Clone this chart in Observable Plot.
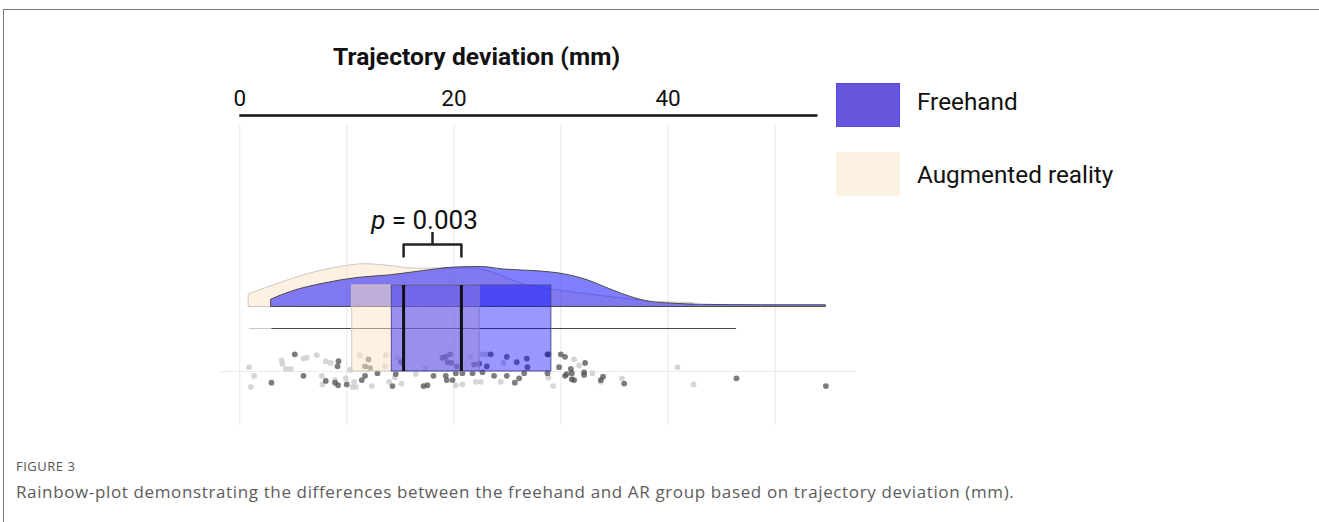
<!DOCTYPE html>
<html>
<head>
<meta charset="utf-8">
<script src="https://cdn.jsdelivr.net/npm/d3@7"></script>
<script src="https://cdn.jsdelivr.net/npm/@observablehq/plot@0.6"></script>
<style>
  html, body { margin: 0; padding: 0; background: #fff; }
  #page { position: relative; width: 1319px; height: 522px; overflow: hidden; font-family: Roboto, sans-serif; }
  #frame { position: absolute; left: 3px; top: 9px; right: -2px; bottom: -2px; border-top: 1.5px solid #7a7a7a; border-left: 1.5px solid #7a7a7a; }
  #chart { position: absolute; left: 0; top: 0; }
  #title { position: absolute; left: 333px; top: 42px; font-size: 24.5px; font-weight: 700; color: #111; white-space: nowrap; letter-spacing: 0.1px; }
  .sw { position: absolute; left: 836px; width: 64px; height: 44px; box-sizing: border-box; }
  .lt { position: absolute; left: 917px; font-size: 24.3px; color: #111; white-space: nowrap; }
  #fig { position: absolute; left: 16px; top: 457px; font-family: "Open Sans", sans-serif; font-size: 13px; color: #555; letter-spacing: 0.5px; }
  #cap { position: absolute; left: 16px; top: 480px; font-family: "Open Sans", sans-serif; font-size: 17px; color: #5c5c5c; white-space: nowrap; letter-spacing: 0.63px; }
</style>
</head>
<body>
<div id="page">
  <div id="frame"></div>
  <div id="chart"></div>
  <div id="title">Trajectory deviation (mm)</div>
  <div class="sw" style="top:83px;background:#6656dc;border:1.5px solid #5a48e2;"></div>
  <div class="lt" style="top:87px;">Freehand</div>
  <div class="sw" style="top:152px;background:#fdf1e3;"></div>
  <div class="lt" style="top:160px;">Augmented reality</div>
  <div id="fig">FIGURE 3</div>
  <div id="cap">Rainbow-plot demonstrating the differences between the freehand and AR group based on trajectory deviation (mm).</div>
</div>
<script>
// ---------- data ----------
const groups = ["Freehand", "Augmented reality"];
const q1 = [14.2, 10.5];
const medians = [20.7, 15.3];
const q3 = [29.1, 22.4];
const whiskerLow = [3.0, 0.9];
const whiskerHigh = [46.4, 35.6];
const pText = "p = 0.003";
const tickValues = [0, 20, 40];
const gridValues = [0, 10, 20, 30, 40, 50];
const axisEnd = 54;

// raw observations (mm) with their jitter offsets
const freehandX = [5.14, 9.22, 9.13, 12.02, 11.70, 12.17, 12.86, 5.95, 2.96, 8.03, 8.90, 9.18, 9.99, 11.40, 11.70, 14.26,
  18.93, 19.24, 19.64, 19.40, 19.77, 20.27, 20.80, 21.88, 22.35, 23.44, 23.07, 22.67, 21.74, 24.94, 25.87, 26.81, 26.87,
  28.74, 26.56, 26.09, 25.69, 24.94, 23.75, 19.24, 19.33, 19.87, 18.09, 17.16, 17.53, 20.18, 15.04, 14.57, 28.74,
  28.83, 29.98, 30.38, 32.25, 29.82, 30.92, 31.01, 30.52, 30.38, 32.16, 32.16, 31.01, 31.23, 33.93, 33.72, 35.90,
  46.39, 54.74];
const freehandJitter = [0.20, 0.12, 0.06, 0.14, 0.06, 0.04, -0.02, -0.05, -0.13, -0.11, -0.13, -0.16, -0.15, -0.10, -0.05, -0.17,
  0.16, 0.17, 0.20, 0.11, 0.10, 0.06, -0.02, 0.08, 0.09, 0.20, 0.06, -0.01, -0.02, 0.17, 0.11, 0.15, 0.05,
  0.20, -0.02, -0.08, -0.13, -0.05, -0.05, -0.05, -0.10, -0.10, -0.05, -0.17, -0.16, -0.02, 0.11, -0.03, -0.02,
  0.20, 0.20, 0.17, 0.10, 0.05, 0.03, -0.02, -0.03, -0.05, -0.01, -0.04, -0.09, -0.10, -0.06, -0.10, -0.14,
  -0.08, -0.17];
const arX = [0.87, 1.34, 1.03, 3.92, 3.99, 4.30, 4.76, 5.95, 6.26, 7.19, 8.03, 8.50, 7.66, 7.72, 8.90, 9.90, 10.30,
  10.68, 10.53, 10.84, 11.21, 12.33, 13.64, 13.57, 13.95, 14.73, 14.48, 15.10, 16.44, 17.31, 20.18, 20.80, 21.58,
  22.04, 22.51, 22.67, 23.07, 24.38, 24.63, 31.23, 31.69, 32.94, 33.72, 35.68, 28.83, 29.26, 40.88, 42.38];
const arJitter = [0.05, -0.05, -0.18, 0.13, 0.09, 0.03, 0.03, 0.15, 0.16, 0.19, 0.12, 0.10, -0.05, -0.15, -0.10, -0.08, 0.02,
  -0.12, -0.18, -0.18, 0.19, -0.17, 0.19, 0.06, -0.12, 0.16, -0.07, -0.14, -0.03, 0.04, -0.16, -0.15, 0.17,
  -0.12, -0.12, 0.20, 0.20, -0.12, 0.10, 0.14, 0.07, -0.02, -0.12, -0.08, -0.07, -0.17, 0.05, -0.15];

// density profiles (mm, relative density)
const freehandDensX = [2.96, 4.76, 7.87, 10.99, 14.10, 17.21, 20.02, 22.51, 24.69, 27.81, 30.29, 32.48, 34.65, 36.52, 38.39, 40.26, 43.06, 48.66, 54.74];
const freehandDensY = [0.172, 0.349, 0.544, 0.674, 0.737, 0.837, 0.916, 0.930, 0.870, 0.830, 0.760, 0.621, 0.405, 0.233, 0.116, 0.079, 0.051, 0.040, 0.040];
const arDensX = [0.87, 3.20, 6.32, 9.43, 11.61, 14.10, 16.25, 18.77, 21.58, 23.14, 24.69, 26.25, 27.81, 30.92, 34.03, 37.15, 39.02, 42.38];
const arDensY = [0.295, 0.505, 0.760, 0.930, 0.993, 0.953, 0.893, 0.893, 0.893, 0.837, 0.698, 0.544, 0.451, 0.349, 0.249, 0.156, 0.116, 0.093];

// ---------- styling / layout ----------
const fillFH = "#0000ff", fillAR = "#ffe4c4";
const lineFH = "#4a4a4a", lineAR = "#c8c8c8";
const dotFH = "#505050", dotAR = "#cfcfcf";
const densBase = 0.75, densScale = 0.5;

const boxes = groups.map((g, i) => ({group: g, q1: q1[i], median: medians[i], q3: q3[i], lo: whiskerLow[i], hi: whiskerHigh[i]}));
const ptsFH = freehandX.map((x, i) => ({x, j: freehandJitter[i]}));
const ptsAR = arX.map((x, i) => ({x, j: arJitter[i]}));
const densFH = freehandDensX.map((x, i) => ({x, d: freehandDensY[i]}));
const densAR = arDensX.map((x, i) => ({x, d: arDensY[i]}));
const [mFH, mAR] = medians;
const bLo = 1.337, bHi = 1.477, bTop = 1.616;
const bracket = [{x: mAR, y: bLo}, {x: mAR, y: bHi}, {x: mFH, y: bHi}, {x: mFH, y: bLo}];

const chart = Plot.plot({
  width: 1319, height: 430,
  marginLeft: 220, marginRight: 463, marginTop: 125, marginBottom: 5,
  style: {fontFamily: "Roboto, sans-serif", fontSize: "22px", color: "#111", background: "transparent"},
  x: {domain: [-1.8, 57.6], axis: null},
  y: {domain: [-0.628, 2.86], axis: null},
  marks: [
    Plot.ruleX(gridValues, {stroke: "#ebebeb", strokeWidth: 1.2}),
    Plot.ruleY([0], {stroke: "#ebebeb", strokeWidth: 1.2}),
    Plot.dot(ptsAR, {x: "x", y: "j", r: 2.9, fill: dotAR, fillOpacity: 0.85}),
    Plot.dot(ptsFH, {x: "x", y: "j", r: 2.9, fill: dotFH, fillOpacity: 0.75}),
    Plot.ruleY([boxes[1]], {y: 0.5, x1: "lo", x2: "hi", stroke: lineAR, strokeWidth: 1.2}),
    Plot.ruleY([boxes[0]], {y: 0.5, x1: "lo", x2: "hi", stroke: lineFH, strokeWidth: 1.2}),
    Plot.areaY(densAR, {x: "x", y1: densBase, y2: d => densBase + d.d * densScale, curve: "monotone-x",
      fill: fillAR, fillOpacity: 0.5, stroke: lineAR, strokeWidth: 1}),
    Plot.areaY(densFH, {x: "x", y1: densBase, y2: d => densBase + d.d * densScale, curve: "monotone-x",
      fill: fillFH, fillOpacity: 0.5, stroke: lineFH, strokeWidth: 1}),
    Plot.rect([boxes[1]], {x1: "q1", x2: "q3", y1: 0, y2: 1, fill: fillAR, fillOpacity: 0.5, stroke: "#cfc6bd", strokeWidth: 1}),
    Plot.rect([boxes[0]], {x1: "q1", x2: "q3", y1: 0, y2: 1, fill: fillFH, fillOpacity: 0.4, stroke: "#4b4b9a", strokeWidth: 1}),
    Plot.ruleX(boxes, {x: "median", y1: 0, y2: 1, stroke: "#111", strokeWidth: 3}),
    Plot.line(bracket, {x: "x", y: "y", stroke: "#222", strokeWidth: 2.5}),
    Plot.ruleX([(mAR + mFH) / 2], {y1: bHi, y2: bTop, stroke: "#222", strokeWidth: 2.5}),
    Plot.text([pText], {x: (mAR + mFH) / 2, y: 1.756, dx: -8, text: d => d, fontSize: 26, lineAnchor: "middle", className: "ptext"}),
    Plot.ruleY([2.977], {x1: 0, x2: axisEnd, stroke: "#111", strokeWidth: 2.5}),
    Plot.text(tickValues, {x: d => d, y: 3.174, text: d => String(d), fontSize: 22.5, lineAnchor: "middle"})
  ]
});
document.getElementById("chart").appendChild(chart);
// italic p in the annotation
chart.querySelectorAll(".ptext text").forEach(t => {
  const s = t.textContent;
  t.textContent = "";
  const a = document.createElementNS("http://www.w3.org/2000/svg", "tspan");
  a.setAttribute("font-style", "italic");
  a.textContent = s.slice(0, 1);
  const b = document.createElementNS("http://www.w3.org/2000/svg", "tspan");
  b.textContent = s.slice(1);
  t.appendChild(a); t.appendChild(b);
});
</script>
</body>
</html>
